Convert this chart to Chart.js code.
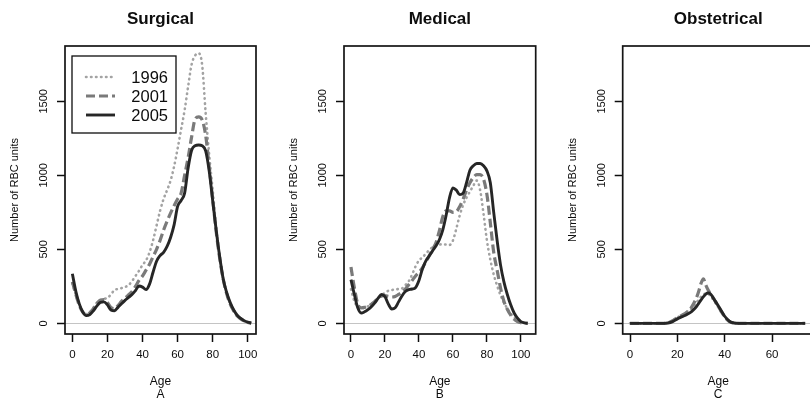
<!DOCTYPE html>
<html>
<head>
<meta charset="utf-8">
<script src="https://cdn.jsdelivr.net/npm/chart.js@4.4.0/dist/chart.umd.min.js"></script>
<style>
    body { margin: 0; background: #fff; width: 810px; height: 400px; overflow: hidden; position: relative; }
    canvas { position: absolute; top: 0; }
</style>
</head>
<body>
<canvas id="surgical" width="270" height="400" style="left:0px"></canvas>
<canvas id="medical" width="270" height="400" style="left:270px"></canvas>
<canvas id="obstetrical" width="280" height="400" style="left:540px"></canvas>
<script>
// --- DATOS ---
const years = ['1996', '2001', '2005'];
const yTicks = [0, 500, 1000, 1500];
const xTicksAB = [0, 20, 40, 60, 80, 100];
const xTicksC = [0, 20, 40, 60];

// Surgical: edad cada 2 anos, 0..102
const surgAge = [0,2,4,6,8,10,12,14,16,18,20,22,24,26,28,30,32,34,36,38,40,42,44,46,48,50,
                 52,54,56,58,60,62,64,66,68,70,72,74,76,78,80,82,84,86,88,90,92,94,96,98,100,102];
const surg1996 = [270,190,120,78,62,75,105,140,155,165,172,195,225,232,238,245,258,285,320,355,395,425,480,560,660,760,
                  840,900,965,1060,1180,1310,1440,1600,1750,1810,1825,1745,1420,1140,900,650,455,305,200,130,80,48,28,14,5,1];
const surg2001 = [280,195,120,75,60,72,100,135,158,160,140,108,100,120,148,170,192,215,250,290,320,360,400,450,500,560,
                  630,690,745,795,840,880,1000,1120,1260,1380,1395,1375,1270,1060,840,620,440,300,200,130,85,50,30,15,6,2];
const surg2005 = [335,215,130,75,52,60,85,118,142,145,125,90,85,108,132,155,175,195,222,252,245,228,265,345,420,458,
                  480,520,580,665,790,830,880,1050,1170,1200,1205,1200,1165,1030,830,630,450,300,207,140,90,55,33,18,8,2];

// Medical: edad cada 2 anos, 0..104
const medAge = [0,2,4,6,8,10,12,14,16,18,20,22,24,26,28,30,32,34,36,38,40,42,44,46,48,50,
                52,54,56,58,60,62,64,66,68,70,72,74,76,78,80,82,84,86,88,90,92,94,96,98,100,102,104];
const med1996 = [230,150,110,100,105,115,130,150,170,190,205,220,225,230,232,236,258,285,330,385,425,445,470,495,515,528,
                 532,535,532,530,560,640,730,800,850,890,930,965,900,740,560,430,330,255,190,140,100,65,40,24,12,4,1];
const med2001 = [380,240,130,105,108,115,128,148,168,185,188,182,178,182,195,210,232,260,290,320,345,375,415,455,500,545,
                 625,720,760,760,750,755,790,840,900,950,985,1005,1005,975,870,680,480,360,240,150,95,55,28,12,4,1,0];
const med2005 = [295,195,105,70,78,93,112,138,170,195,180,130,97,105,145,185,215,228,232,242,290,365,420,455,490,522,
                 565,630,730,850,915,900,870,880,950,1035,1065,1080,1080,1065,1030,950,750,560,395,280,195,125,70,35,12,3,1];

// Obstetrical: edad 0..74
const obsAge = [0,4,8,12,14,16,18,20,22,24,26,28,29,30,31,32,33,34,36,38,40,42,44,46,50,55,60,65,70,74];
const obs1996 = [0,0,0,0,0,3,20,40,58,78,100,140,160,180,195,200,198,185,140,90,42,12,2,0,0,0,0,0,0,0];
const obs2001 = [0,0,0,0,0,3,18,38,55,75,110,170,215,270,300,260,225,200,150,95,45,12,2,0,0,0,0,0,0,0];
const obs2005 = [0,0,0,0,0,2,12,30,45,60,80,112,135,158,180,198,205,198,150,100,48,14,2,0,0,0,0,0,0,0];

const FONT = '"Liberation Sans", Arial, Helvetica, sans-serif';
const INK = '#0d0d0d';

// estilos de cada serie (1996 punteado, 2001 rayado, 2005 continuo)
const seriesStyle = [
    { color: '#a3a3a3', width: 2.6, dash: [0.5, 4.5], cap: 'round', order: 2 },
    { color: '#7a7a7a', width: 3.2, dash: [9, 4], cap: 'butt', order: 1 },
    { color: '#262626', width: 2.9, dash: [], cap: 'butt', order: 0 }
];

// --- PLUGIN: marco, etiquetas Y giradas, titulos y leyenda ---
const rDecor = {
    id: 'rDecor',
    afterDraw(chart, args, opts) {
        const { ctx, chartArea: a, scales: { y } } = chart;
        ctx.save();
        ctx.strokeStyle = '#151515';
        ctx.lineWidth = 1.7;
        ctx.strokeRect(a.left, a.top, a.right - a.left, a.bottom - a.top);

        ctx.fillStyle = INK;
        ctx.textAlign = 'center';
        ctx.textBaseline = 'middle';
        ctx.font = '11px ' + FONT;
        y.ticks.forEach(t => {
            ctx.save();
            ctx.translate(a.left - 21, y.getPixelForValue(t.value));
            ctx.rotate(-Math.PI / 2);
            ctx.fillText(t.label, 0, 0);
            ctx.restore();
        });
        ctx.save();
        ctx.translate(a.left - 50, (a.top + a.bottom) / 2);
        ctx.rotate(-Math.PI / 2);
        ctx.fillText('Number of RBC units', 0, 0);
        ctx.restore();

        ctx.font = 'bold 17px ' + FONT;
        ctx.fillText(opts.title, (a.left + a.right) / 2, 19);

        if (opts.legend) {
            const lx = a.left + 7, ly = a.top + 10;
            ctx.lineWidth = 1.3;
            ctx.strokeStyle = INK;
            ctx.strokeRect(lx, ly, 104, 77);
            chart.data.datasets.forEach((ds, i) => {
                const rowY = ly + 21 + i * 19;
                ctx.save();
                ctx.strokeStyle = ds.borderColor;
                ctx.lineWidth = ds.borderWidth;
                ctx.lineCap = ds.borderCapStyle;
                ctx.setLineDash(ds.borderDash);
                ctx.beginPath();
                ctx.moveTo(lx + 14, rowY);
                ctx.lineTo(lx + 43, rowY);
                ctx.stroke();
                ctx.restore();
                ctx.font = '16.5px ' + FONT;
                ctx.textAlign = 'right';
                ctx.fillText(ds.label, lx + 96, rowY + 1);
            });
        }
        ctx.restore();
    }
};

// --- CONSTRUCCION DE CADA PANEL ---
function crearPanel(id, title, letter, ages, series, xMin, xMax, xTicks, padLeft, padRight, legend) {
    const ctx = document.getElementById(id).getContext('2d');
    const datasets = series.map((vals, i) => {
        const st = seriesStyle[i];
        return {
            label: years[i],
            data: ages.map((age, k) => ({ x: age, y: vals[k] })),
            borderColor: st.color,
            borderWidth: st.width,
            borderDash: st.dash,
            borderCapStyle: st.cap,
            order: st.order,
            pointRadius: 0,
            fill: false,
            cubicInterpolationMode: 'monotone'
        };
    });

    return new Chart(ctx, {
        type: 'line',
        data: { datasets },
        plugins: [rDecor],
        options: {
            responsive: false,
            animation: false,
            devicePixelRatio: 1,
            layout: { padding: { top: 46, bottom: 0, left: padLeft, right: padRight } },
            plugins: {
                legend: { display: false },
                tooltip: { enabled: false },
                rDecor: { title: title, legend: legend }
            },
            scales: {
                x: {
                    type: 'linear',
                    min: xMin,
                    max: xMax,
                    afterFit: s => { s.height = 66; },
                    afterBuildTicks: s => { s.ticks = xTicks.map(v => ({ value: v })); },
                    border: { display: false },
                    grid: { drawOnChartArea: false, drawTicks: true, tickLength: 8, tickColor: INK, tickWidth: 1.5 },
                    ticks: { padding: 6, color: INK, font: { family: FONT, size: 11.5 }, maxRotation: 0 },
                    title: {
                        display: true,
                        text: ['Age', letter],
                        color: INK,
                        font: { family: FONT, size: 12, lineHeight: 1.1 },
                        padding: { top: 0, bottom: -1 }
                    }
                },
                y: {
                    min: -72,
                    max: 1874,
                    afterFit: s => { s.width = 10; },
                    afterBuildTicks: s => { s.ticks = yTicks.map(v => ({ value: v })); },
                    border: { display: false },
                    grid: {
                        drawOnChartArea: true,
                        drawTicks: true,
                        tickLength: 8,
                        tickColor: INK,
                        tickWidth: 1.5,
                        lineWidth: 1,
                        color: c => (c.tick && c.tick.value === 0) ? '#c4c4c4' : 'rgba(0,0,0,0)'
                    },
                    ticks: { display: false, callback: v => String(v) }
                }
            }
        }
    });
}

crearPanel('surgical', 'Surgical', 'A', surgAge, [surg1996, surg2001, surg2005], -4.2, 104.7, xTicksAB, 55, 14, true);
crearPanel('medical', 'Medical', 'B', medAge, [med1996, med2001, med2005], -4.1, 108.7, xTicksAB, 64, 4.3, false);
crearPanel('obstetrical', 'Obstetrical', 'C', obsAge, [obs1996, obs2001, obs2005], -3.1, 77.6, xTicksC, 72.7, 6.3, false);
</script>
</body>
</html>
